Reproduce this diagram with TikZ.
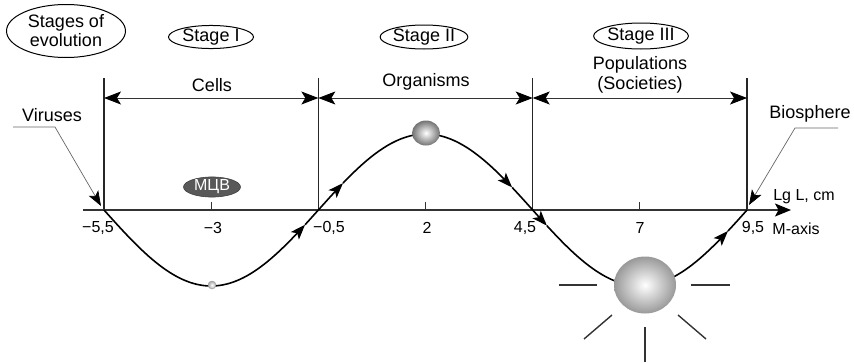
\documentclass[tikz,border=0pt]{standalone}
\usepackage{fontspec}
\setmainfont{Liberation Sans}
\usetikzlibrary{arrows.meta,shapes.geometric}
\begin{document}
\begin{tikzpicture}[x=1pt,y=-1pt,
  declare function={mx(\v)=104+(\v+5.5)*42.87; cy(\v)=210+76*sin(36*(\v+5.5));},
  lbl/.style={font=\fontsize{18}{20}\selectfont, inner sep=0pt},
  ticklbl/.style={font=\fontsize{16}{18}\selectfont, inner sep=0pt},
  stagebox/.style={draw, ellipse, line width=1pt, inner sep=0pt, font=\fontsize{18}{20}\selectfont},
  vline/.style={line width=1.3pt, black!85},
  dimline/.style={line width=0.9pt, black!80, {Stealth[length=17pt,width=13pt,inset=4pt,black]}-{Stealth[length=17pt,width=13pt,inset=4pt,black]}},
  axisline/.style={line width=1.3pt, black!80},
  curvepart/.style={line width=1.6pt, black, -{Stealth[length=15pt,width=11pt,inset=3.5pt]}},
  callout/.style={line width=0.7pt, black!60, -{Stealth[length=15pt,width=11pt,inset=3.5pt,black]}},
  ray/.style={line width=1.4pt, black!80}
]
\useasboundingbox (0,0) rectangle (854,362);

% stage ellipses
\node[stagebox, minimum width=119, minimum height=53, align=center] (soe) at (66,31) {Stages of\\[-1pt]evolution};
\node[stagebox, minimum width=85, minimum height=21] (s1) at (211,37) {Stage I};
\node[stagebox, minimum width=85, minimum height=24] (s2) at (424,37) {Stage II};
\node[stagebox, minimum width=85, minimum height=26] (s3) at (641,36) {Stage III};

% vertical boundaries
\foreach \v/\n in {-5.5/a,-0.5/b,4.5/c,9.5/d}{
  \coordinate (top\n) at ({mx(\v)},78);
  \coordinate (bot\n) at ({mx(\v)},210);
  \coordinate (dim\n) at ({mx(\v)},98);
  \draw[vline] (top\n) -- (bot\n);
}
% dimension arrows
\draw[dimline] (dima) -- (dimb);
\draw[dimline] (dimb) -- (dimc);
\draw[dimline] (dimc) -- (dimd);

\node[lbl] (cells) at (212,85) {Cells};
\node[lbl] (org) at (426,82) {Organisms};
\node[lbl, align=center] (pop) at (640,75) {Populations\\(Societies)};

% axis
\coordinate (ax0) at (83,210);
\coordinate (ax1) at (791,210);
\draw[axisline, -{Stealth[length=16pt,width=13pt,inset=3.5pt,black]}] (ax0) -- (ax1);
\foreach \v in {-3,2,7}{
  \draw[line width=1.1pt, black!80] ({mx(\v)},202) -- ({mx(\v)},210);
}
\node[ticklbl] (t1) at (98,228) {−5,5};
\node[ticklbl] (t2) at (213,228) {−3};
\node[ticklbl] (t3) at (329,228) {−0,5};
\node[ticklbl] (t4) at (427,228) {2};
\node[ticklbl] (t5) at (525,228) {4,5};
\node[ticklbl] (t6) at (640,228) {7};
\node[ticklbl] (t7) at (753,228) {9,5};
\node[ticklbl] (maxis) at (796,229) {M-axis};
\node[ticklbl] (lgl) at (804,197) {Lg L, cm};

% curve
\draw[curvepart] plot[domain=-5.5:-0.81, samples=60] ({mx(\x)},{cy(\x)});
\draw[curvepart] plot[domain=-0.81:0.075, samples=20] ({mx(\x)},{cy(\x)});
\draw[curvepart] plot[domain=0.075:4.02, samples=60] ({mx(\x)},{cy(\x)});
\draw[curvepart] plot[domain=4.02:4.83, samples=20] ({mx(\x)},{cy(\x)});
\draw[curvepart] plot[domain=4.83:9.055, samples=60] ({mx(\x)},{cy(\x)});
\draw[line width=1.6pt] plot[domain=9.055:9.5, samples=10] ({mx(\x)},{cy(\x)});

% callouts
\node[lbl] (vir) at (52,115) {Viruses};
\coordinate (v1) at (13,127);
\coordinate (v2) at (55,127);
\coordinate (v3) at (101,206);
\draw[callout] (v1) -- (v2) -- (v3);
\node[lbl] (bio) at (810,114) {Biosphere};
\coordinate (b1) at (838,128);
\coordinate (b2) at (795,128);
\coordinate (b3) at (749,205);
\draw[callout] (b1) -- (b2) -- (b3);

% MCV
\node[ellipse, fill=black!65, draw=black!75, line width=0.6pt, minimum width=57, minimum height=19, inner sep=0pt,
  text=white, font=\fontsize{16}{18}\selectfont] (mcv) at (212,187) {МЦВ};

% balls
\shade[inner color=white, outer color=black!35, draw=black!40, line width=0.4pt] (212,285) circle (4);
\shade[inner color=white, outer color=black!55] (426,133) ellipse (14 and 12.5);
\shade[inner color=white, outer color=black!40] (645,285) ellipse (31 and 28.5);

% rays
\coordinate (sun) at (645,285);
\draw[ray] (559,285) -- (597,285);
\draw[ray] (691,285) -- (730,285);
\draw[ray] (612,315) -- (584,339);
\draw[ray] (678,315) -- (706,339);
\draw[ray] (645,327) -- (645,362);
\end{tikzpicture}
\end{document}
